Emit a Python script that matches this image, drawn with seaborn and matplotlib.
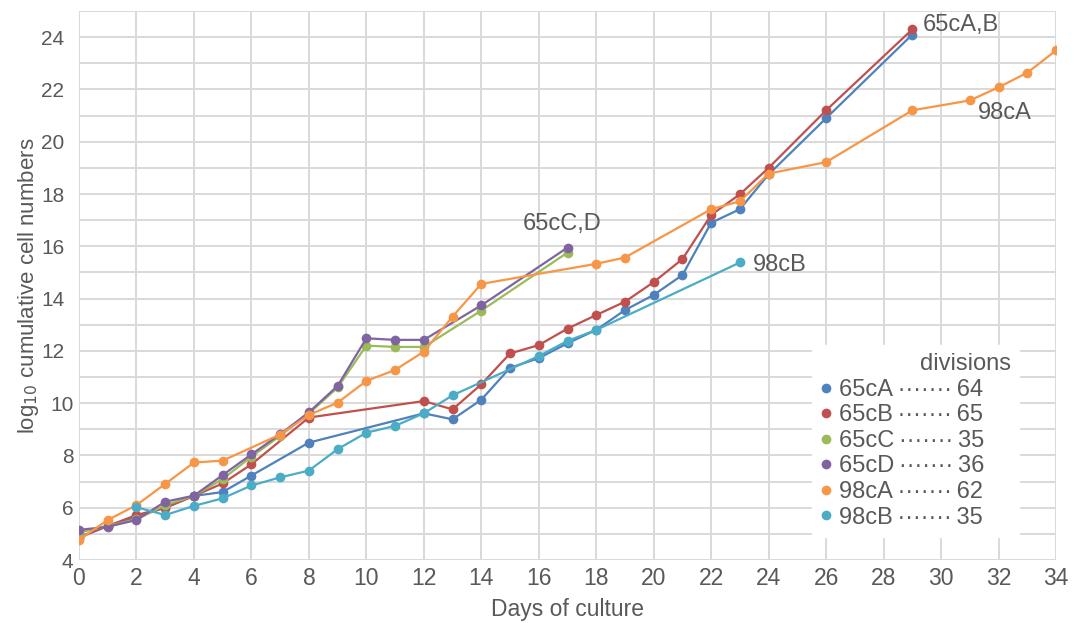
import matplotlib
matplotlib.use("Agg")
import matplotlib.pyplot as plt
import matplotlib.transforms as mtransforms
from matplotlib.lines import Line2D
from matplotlib.ticker import MultipleLocator
import seaborn as sns
import pandas as pd

# ---- data ----
days_65cA = [0, 1, 2, 3, 4, 5, 6, 8, 12, 13, 14, 15, 16, 17, 18, 19, 20, 21, 22, 23, 24, 26, 29]
vals_65cA = [4.85, 5.3, 5.65, 6.0, 6.45, 6.6, 7.23, 8.49, 9.61, 9.38, 10.13, 11.35, 11.72, 12.29,
             12.8, 13.56, 14.14, 14.9, 16.9, 17.42, 18.75, 20.9, 24.1]
days_65cB = [0, 1, 2, 3, 4, 5, 6, 8, 12, 13, 14, 15, 16, 17, 18, 19, 20, 21, 22, 23, 24, 26, 29]
vals_65cB = [4.88, 5.3, 5.72, 6.0, 6.45, 6.93, 7.66, 9.45, 10.08, 9.76, 10.72, 11.9, 12.22, 12.85,
             13.37, 13.88, 14.63, 15.51, 17.2, 17.99, 19.0, 21.2, 24.3]
days_65cC = [0, 1, 2, 3, 4, 5, 6, 7, 8, 9, 10, 11, 12, 14, 17]
vals_65cC = [5.05, 5.3, 5.55, 6.1, 6.45, 7.1, 7.95, 8.75, 9.6, 10.6, 12.2, 12.15, 12.15, 13.54, 15.76]
days_65cD = [0, 1, 2, 3, 4, 5, 6, 7, 8, 9, 10, 11, 12, 14, 17]
vals_65cD = [5.15, 5.27, 5.53, 6.23, 6.46, 7.25, 8.04, 8.81, 9.65, 10.66, 12.48, 12.42, 12.42, 13.74, 15.95]
days_98cA = [0, 1, 2, 3, 4, 5, 7, 8, 9, 10, 11, 12, 13, 14, 18, 19, 22, 23, 24, 26, 29, 31, 32, 33, 34]
vals_98cA = [4.77, 5.53, 6.1, 6.91, 7.73, 7.8, 8.8, 9.55, 10.02, 10.85, 11.27, 11.97, 13.31, 14.56,
             15.33, 15.57, 17.42, 17.72, 18.78, 19.22, 21.2, 21.58, 22.08, 22.64, 23.49]
days_98cB = [2, 3, 4, 5, 6, 7, 8, 9, 10, 11, 12, 13, 16, 17, 18, 23]
vals_98cB = [6.02, 5.72, 6.07, 6.36, 6.85, 7.16, 7.42, 8.24, 8.87, 9.13, 9.61, 10.3, 11.8, 12.38, 12.8, 15.38]

cultures = ["65cA", "65cB", "65cC", "65cD", "98cA", "98cB"]
divisions = [64, 65, 35, 36, 62, 35]
colors = ["#4F81BD", "#C0504D", "#9BBB59", "#8064A2", "#F79646", "#4BACC6"]

series = {
    "65cA": (days_65cA, vals_65cA),
    "65cB": (days_65cB, vals_65cB),
    "65cC": (days_65cC, vals_65cC),
    "65cD": (days_65cD, vals_65cD),
    "98cA": (days_98cA, vals_98cA),
    "98cB": (days_98cB, vals_98cB),
}
rows = []
for name in cultures:
    d, v = series[name]
    for di, vi in zip(d, v):
        rows.append({"day": di, "logcells": vi, "culture": name})
df = pd.DataFrame(rows)

# ---- style ----
sns.set_theme(style="white")
plt.rcParams["font.family"] = ["Liberation Sans", "DejaVu Sans"]
text_color = "#595959"
grid_color = "#D9D9D9"

fig = plt.figure(figsize=(10.81, 6.23), dpi=100)
ax = fig.add_axes([79 / 1081, 1 - 560 / 623, (1056 - 79) / 1081, (560 - 11) / 623])

sns.lineplot(data=df, x="day", y="logcells", hue="culture", hue_order=cultures,
             palette=dict(zip(cultures, colors)), marker="o", markersize=7,
             markeredgewidth=0, linewidth=1.6, estimator=None, sort=False,
             legend=False, ax=ax)

ax.set_xlim(0, 34)
ax.set_ylim(4, 25)
ax.xaxis.set_major_locator(MultipleLocator(2))
ax.yaxis.set_minor_locator(MultipleLocator(1))
yticks = list(range(4, 25, 2))
ax.set_yticks(yticks)
ax.set_yticklabels([str(t) for t in yticks])
ax.grid(True, which="major", color=grid_color, linewidth=1.4)
ax.grid(True, which="minor", axis="y", color=grid_color, linewidth=1.4)
ax.set_axisbelow(True)
for s in ax.spines.values():
    s.set_visible(False)
ax.tick_params(axis="both", which="both", length=0, labelcolor=text_color)
ax.tick_params(axis="x", labelsize=16.5, pad=5)
ax.tick_params(axis="y", labelsize=15, pad=4)

# upper y tick labels sit a little further left in the reference
shift = mtransforms.ScaledTranslation(-9 / 100, 0, fig.dpi_scale_trans)
for t, lab in zip(yticks, ax.get_yticklabels()):
    if t >= 12:
        lab.set_transform(lab.get_transform() + shift)

ax.set_xlabel("Days of culture", fontsize=16.5, color=text_color)
ax.set_ylabel("log$_{10}$ cumulative cell numbers", fontsize=16, color=text_color)
ax.xaxis.set_label_coords(0.5, (560 - 598) / 549)
ax.yaxis.set_label_coords((41 - 79) / 977, 0.5)

# annotations
ann_kw = dict(fontsize=17, color=text_color, ha="left", va="center")
ax.text(29.37, 24.45, "65cA,B", **ann_kw)
ax.text(31.28, 21.1, "98cA", **ann_kw)
ax.text(15.45, 16.85, "65cC,D", **ann_kw)
ax.text(23.45, 15.3, "98cB", **ann_kw)

# legend
handles = [Line2D([], [], marker="o", linestyle="", color=c, markersize=7, markeredgewidth=0)
           for c in colors]
labels = [f"{n}\u2009{'·' * 7}\u2009{d}" + " " * 4 for n, d in zip(cultures, divisions)]
leg = ax.legend(handles, labels, title="divisions", alignment="right",
                loc="upper left", bbox_to_anchor=(812 / 1081, 1 - 345 / 623),
                bbox_transform=fig.transFigure, frameon=True, fancybox=False,
                framealpha=1, edgecolor="white", facecolor="white",
                fontsize=17, title_fontsize=17, handlelength=0.5, handletextpad=0.3,
                labelspacing=0.15, borderpad=0.35, borderaxespad=0)
for t in leg.get_texts():
    t.set_color(text_color)
leg.get_title().set_color(text_color)

fig.savefig("out.png", dpi=100)
